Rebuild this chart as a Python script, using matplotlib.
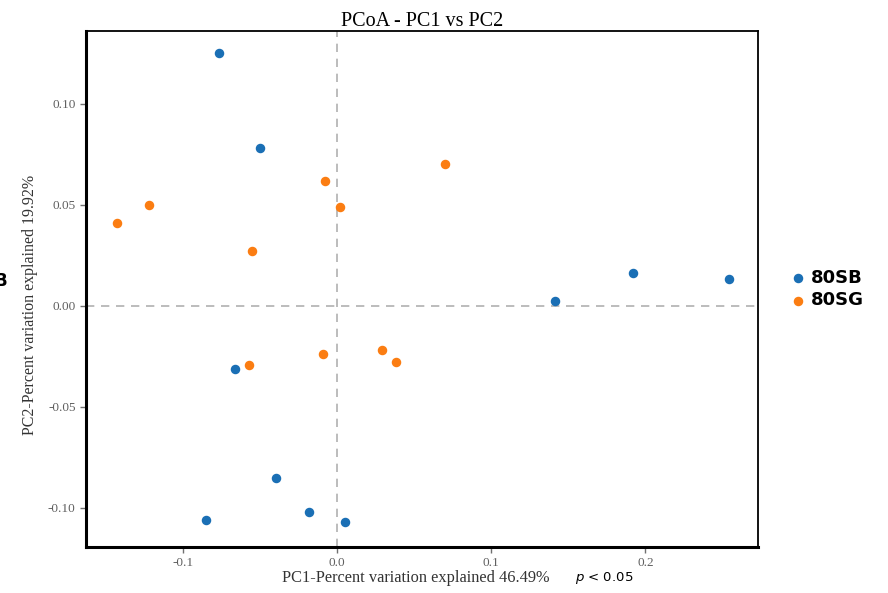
import matplotlib.pyplot as plt

# Coordonnées PCoA
sb_pc1 = [-0.077, -0.050, 0.141, 0.192, 0.254, -0.066, -0.040, -0.085, -0.018, 0.005]
sb_pc2 = [0.125, 0.078, 0.0025, 0.0163, 0.0134, -0.031, -0.085, -0.106, -0.102, -0.107]
sg_pc1 = [-0.143, -0.122, -0.055, -0.008, 0.002, 0.070, -0.057, -0.009, 0.029, 0.038]
sg_pc2 = [0.041, 0.050, 0.027, 0.062, 0.049, 0.070, -0.029, -0.024, -0.022, -0.028]

xticks = [-0.1, 0.0, 0.1, 0.2]
yticks = [-0.10, -0.05, 0.00, 0.05, 0.10]

serif = 'Liberation Serif'

fig = plt.figure(figsize=(8.88, 5.93), dpi=100)
ax = fig.add_axes([0.0968, 0.0776, 0.7568, 0.870])

ax.axvline(0, color='#b0b0b0', ls=(0, (5, 4)), lw=1.2, zorder=1)
ax.axhline(0, color='#b0b0b0', ls=(0, (5, 4)), lw=1.2, zorder=1)

ax.scatter(sb_pc1, sb_pc2, s=34, color='#1a6fb5', label='80SB', zorder=3)
ax.scatter(sg_pc1, sg_pc2, s=34, color='#fb7d12', label='80SG', zorder=3)

ax.set_xlim(-0.163, 0.273)
ax.set_ylim(-0.1193, 0.136)
ax.set_xticks(xticks)
ax.set_xticklabels(['-0.1', '0.0', '0.1', '0.2'])
ax.set_yticks(yticks)
ax.set_yticklabels(['-0.10', '-0.05', '0.00', '0.05', '0.10'])
ax.tick_params(length=4, width=1, color='#707070', labelsize=9.5, labelcolor='#606060')
for lab in ax.get_xticklabels() + ax.get_yticklabels():
    lab.set_family(serif)

for side in ['left', 'bottom']:
    ax.spines[side].set_linewidth(2.2)
for side in ['top', 'right']:
    ax.spines[side].set_linewidth(1.3)

ax.set_title('PCoA - PC1 vs PC2', family=serif, fontsize=14.5, pad=3)
ax.set_ylabel('PC2-Percent variation explained 19.92%', family=serif, fontsize=11.5,
              color='#333333')
ax.yaxis.set_label_coords(-0.072, 0.47)
ax.set_xlabel(' ', fontsize=2)
fig.text(0.3176, 0.025, 'PC1-Percent variation explained 46.49%', family=serif,
         fontsize=11.8, color='#333333', va='center')
fig.text(0.6475, 0.025, r'$p$ < 0.05', fontsize=9.5, family='DejaVu Sans', va='center')

leg = ax.legend(loc='center left', bbox_to_anchor=(1.035, 0.5), frameon=False,
                handletextpad=0.2, handlelength=1.0, labelspacing=0.25, borderaxespad=0,
                prop={'family': 'DejaVu Sans', 'weight': 'bold', 'size': 13})

fig.text(-0.006, 0.517, 'B', fontsize=12, weight='bold')

fig.savefig('out.png', dpi=100)
